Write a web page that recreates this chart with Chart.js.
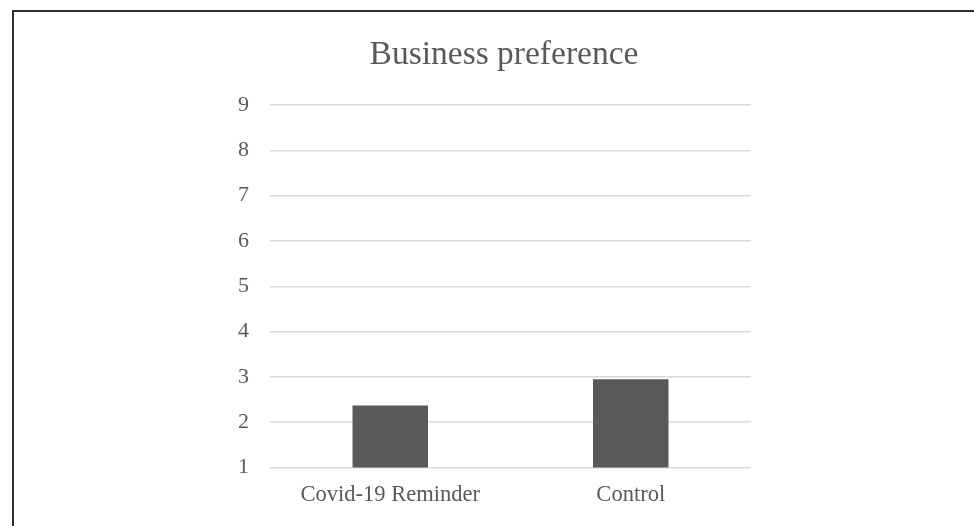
<!DOCTYPE html>
<html>
<head>
<meta charset="utf-8">
<script src="https://cdn.jsdelivr.net/npm/chart.js@4/dist/chart.umd.min.js"></script>
<style>
  html, body { margin: 0; padding: 0; background: #fff; }
  #wrap { position: relative; width: 974px; height: 526px; overflow: hidden; }
  #frame {
    position: absolute; left: 12px; top: 10px; right: -4px; bottom: -4px;
    border-left: 2px solid #2e2e2e; border-top: 2px solid #2e2e2e;
    pointer-events: none;
  }
  canvas { position: absolute; left: 0; top: 0; }
</style>
</head>
<body>
<div id="wrap">
  <canvas id="chart" width="974" height="526"></canvas>
  <div id="frame"></div>
</div>
<script>
// data
const categories = ["Covid-19 Reminder", "Control"];
const preference = [2.37, 2.95];
const yTicks = [1, 2, 3, 4, 5, 6, 7, 8, 9];

const textColor = "#595959";
const serif = "'Liberation Serif', 'Times New Roman', serif";

// left padding shifts the title centre to about x=504 like the original
const padLeft = 34;

new Chart(document.getElementById("chart").getContext("2d"), {
  type: "bar",
  data: {
    labels: categories,
    datasets: [{
      label: "Business preference",
      data: preference,
      yAxisID: "y",
      backgroundColor: "#595959",
      borderWidth: 0,
      categoryPercentage: 1,
      barPercentage: 0.314
    }]
  },
  options: {
    responsive: false,
    animation: false,
    layout: { padding: { left: padLeft, right: 0, top: 0, bottom: 0 } },
    plugins: {
      legend: { display: false },
      tooltip: { enabled: false },
      title: {
        display: true,
        text: "Business preference",
        color: textColor,
        font: { family: serif, size: 33.5, weight: "normal", lineHeight: 1.2 },
        padding: { top: 35.5, bottom: 29.3 }
      }
    },
    scales: {
      x: {
        grid: { display: false },
        border: { display: false },
        ticks: {
          color: textColor,
          font: { family: serif, size: 22.5 },
          padding: 6,
          maxRotation: 0
        },
        afterFit: s => { s.height = 58.5; }
      },
      y: {
        min: 1,
        max: 9,
        afterBuildTicks: s => { s.ticks = yTicks.map(v => ({ value: v })); },
        grid: { color: "#d9d9d9", lineWidth: 1.5, drawTicks: false },
        border: { display: false },
        ticks: {
          color: textColor,
          font: { family: serif, size: 22 },
          padding: 21
        },
        afterFit: s => { s.width = 270 - padLeft; }
      },
      // empty right-hand axis, only used to reserve the white space on the right
      spacer: {
        type: "linear",
        position: "right",
        grid: { display: false },
        border: { display: false },
        ticks: { display: false },
        afterFit: s => { s.width = 223; }
      }
    }
  }
});
</script>
</body>
</html>
